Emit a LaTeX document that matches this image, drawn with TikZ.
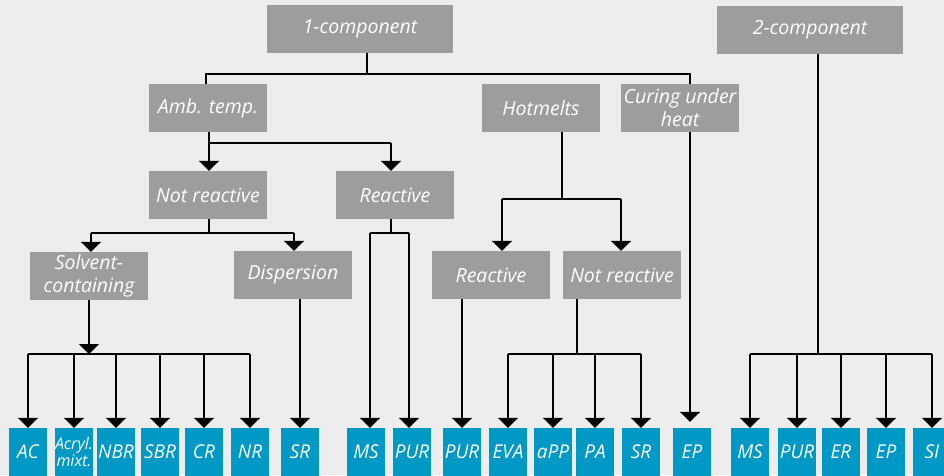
\documentclass[tikz,border=0pt]{standalone}
\usepackage{fontspec}
\setmainfont{Open Sans}
\usetikzlibrary{arrows.meta}
\definecolor{bg}{HTML}{EDEDED}
\definecolor{boxgray}{HTML}{9D9D9C}
\definecolor{boxblue}{HTML}{0098C5}
\begin{document}
\begin{tikzpicture}[x=1pt,y=-1pt,
  gbox/.style={fill=boxgray,text=white,inner sep=0pt,minimum width=118pt,minimum height=48pt,align=center,
    font=\fontsize{19.5}{23}\selectfont\itshape},
  bbox/.style={fill=boxblue,text=white,inner sep=0pt,minimum width=38pt,minimum height=48pt,align=center,
    font=\fontsize{19}{20}\selectfont\itshape},
  conn/.style={line width=2pt,draw=black},
  arr/.style={conn,-{Triangle[width=20pt,length=10pt]}}]
\fill[bg] (0,0) rectangle (944,475);
\clip (0,0) rectangle (944,475);
% gray boxes
\node[gbox,minimum width=186pt] (c1) at (360,29) {1-component};
\node[gbox,minimum width=186pt] (c2) at (810,30) {2-component};
\node[gbox] (amb) at (208,108) {Amb. temp.};
\node[gbox] (hot) at (541,108) {Hotmelts};
\node[gbox] (cur) at (680,108) {Curing under\\heat};
\node[gbox] (nr1) at (208,195) {Not reactive};
\node[gbox] (re1) at (395,195) {Reactive};
\node[gbox] (sol) at (89,276) {Solvent-\\containing};
\node[gbox] (dis) at (293,275) {Dispersion};
\node[gbox] (re2) at (491,275) {Reactive};
\node[gbox] (nr2) at (622,275) {Not reactive};
% blue boxes
\node[bbox] (ac) at (28,452) {AC};
\node[bbox,font=\fontsize{16}{17}\selectfont\itshape] (acr) at (74,452) {Acryl.\\mixt.};
\node[bbox] (nbr) at (116,452) {NBR};
\node[bbox] (sbr) at (160,452) {SBR};
\node[bbox] (cr) at (204,452) {CR};
\node[bbox] (nr) at (250,452) {NR};
\node[bbox] (sr1) at (300,452) {SR};
\node[bbox] (ms1) at (366,452) {MS};
\node[bbox] (pur1) at (412,452) {PUR};
\node[bbox] (pur2) at (462,452) {PUR};
\node[bbox] (eva) at (508,452) {EVA};
\node[bbox] (app) at (553,452) {aPP};
\node[bbox] (pa) at (595,452) {PA};
\node[bbox] (sr2) at (641,452) {SR};
\node[bbox] (ep1) at (692,452) {EP};
\node[bbox] (ms2) at (750,452) {MS};
\node[bbox] (pur3) at (797,452) {PUR};
\node[bbox] (er) at (841,452) {ER};
\node[bbox] (ep2) at (886,452) {EP};
\node[bbox] (si) at (932,452) {SI};
% junctions
\coordinate (j1) at (367,74);
\coordinate (j1l) at (206,74);
\coordinate (j1r) at (690,74);
\coordinate (j2) at (209,143);
\coordinate (j2r) at (391,143);
\coordinate (j3) at (209,233);
\coordinate (j3l) at (91,233);
\coordinate (j3r) at (294,233);
\coordinate (j4) at (391,233);
\coordinate (j4l) at (370,233);
\coordinate (j4r) at (409,233);
\coordinate (j5) at (89,354);
\coordinate (j7) at (562,199);
\coordinate (j7l) at (502,199);
\coordinate (j7r) at (621,199);
\coordinate (j8) at (577,354);
\coordinate (j9) at (818,354);
% 1-component
\draw[conn] (c1.south -| j1) -- (j1);
\draw[conn] (amb.north -| j1l) -- (j1l) -- (j1r) -- (cur.north -| j1r);
% amb temp
\draw[conn] (amb.south -| j2) -- (j2) -- (j2r);
\draw[arr] (j2) -- (nr1.north -| j2);
\draw[arr] (j2r) -- (re1.north -| j2r);
% not reactive
\draw[conn] (nr1.south -| j3) -- (j3);
\draw[conn] (j3l) -- (j3r);
\draw[arr] (j3l) -- (sol.north -| j3l);
\draw[arr] (j3r) -- (dis.north -| j3r);
% reactive
\draw[conn] (re1.south -| j4) -- (j4);
\draw[conn] (j4l) -- (j4r);
\draw[arr] (j4l) -- (ms1.north -| j4l);
\draw[arr] (j4r) -- (pur1.north -| j4r);
% solvent-containing
\draw[arr] (sol.south -| j5) -- (j5);
\draw[conn] (ac.north |- j5) -- (nr.north |- j5);
\foreach \b in {ac,acr,nbr,sbr,cr,nr}{\draw[arr] (\b.north |- j5) -- (\b.north);}
% dispersion
\draw[arr] (dis.south -| sr1.north) -- (sr1.north);
% hotmelts
\draw[conn] (hot.south -| j7) -- (j7);
\draw[conn] (j7l) -- (j7r);
\draw[arr] (j7l) -- (re2.north -| j7l);
\draw[arr] (j7r) -- (nr2.north -| j7r);
\draw[arr] (re2.south -| pur2.north) -- (pur2.north);
\draw[conn] (nr2.south -| j8) -- (j8);
\draw[conn] (eva.north |- j8) -- (sr2.north |- j8);
\foreach \b in {eva,app,pa,sr2}{\draw[arr] (\b.north |- j8) -- (\b.north);}
% curing under heat
\draw[arr,shorten >=6pt] (cur.south -| j1r) -- (ep1.north -| j1r);
% 2-component
\draw[conn] (c2.south -| j9) -- (j9);
\draw[conn] (ms2.north |- j9) -- (si.north |- j9);
\foreach \b in {ms2,pur3,er,ep2,si}{\draw[arr] (\b.north |- j9) -- (\b.north);}
\end{tikzpicture}
\end{document}
